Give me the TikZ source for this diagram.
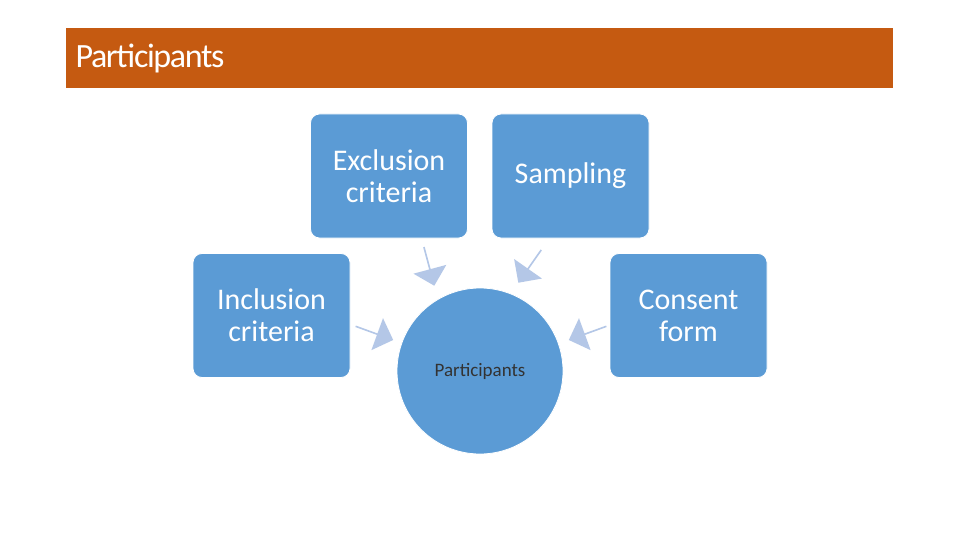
\documentclass[tikz,border=0pt]{standalone}
\usepackage{fontspec}
\setmainfont{Carlito}
\usetikzlibrary{shapes.arrows}
\definecolor{bar}{HTML}{C55A11}
\definecolor{boxc}{HTML}{5B9BD5}
\definecolor{arr}{HTML}{B4C7E7}
\begin{document}
\begin{tikzpicture}[x=1pt,y=-1pt,
  box/.style={fill=boxc,draw=white,line width=0.8pt,rounded corners=9pt,minimum width=157pt,minimum height=124pt,text=white,font=\fontsize{30}{32}\selectfont,align=center,inner sep=0pt},
  barrow/.style={single arrow,fill=arr,draw=none,minimum width=34pt,single arrow head extend=4pt,minimum height=40pt,inner sep=0pt}]
\useasboundingbox (0,0) rectangle (960,540);
\fill[white] (0,0) rectangle (960,540);
\node[fill=bar,minimum width=827pt,minimum height=60pt,inner sep=0pt] (bar) at (479.5,58) {};
\node[anchor=west,text=white,font=\fontsize{34}{36}\selectfont\addfontfeatures{LetterSpace=-4}] (title) at (72,58) {Participants};
\node[circle,fill=boxc,draw=white,line width=0.8pt,minimum size=166pt,inner sep=0pt] (c) at (480,371) {};
\node[font=\fontsize{19}{20}\selectfont,text=black!80] (ct) at (480,371) {Participants};
\node[box] (ex) at (389,176) {Exclusion\\criteria};
\node[box] (sa) at (570.5,176) {Sampling};
\node[box] (in) at (271.5,315.5) {Inclusion\\criteria};
\node[box] (co) at (688.5,315.5) {Consent\\form};
\node[barrow,rotate=-75] (a1) at (429,266) {};
\node[barrow,rotate=-125] (a2) at (530,266) {};
\node[barrow,rotate=-20] (a3) at (374,333) {};
\node[barrow,rotate=200] (a4) at (588,333) {};
\end{tikzpicture}
\end{document}
